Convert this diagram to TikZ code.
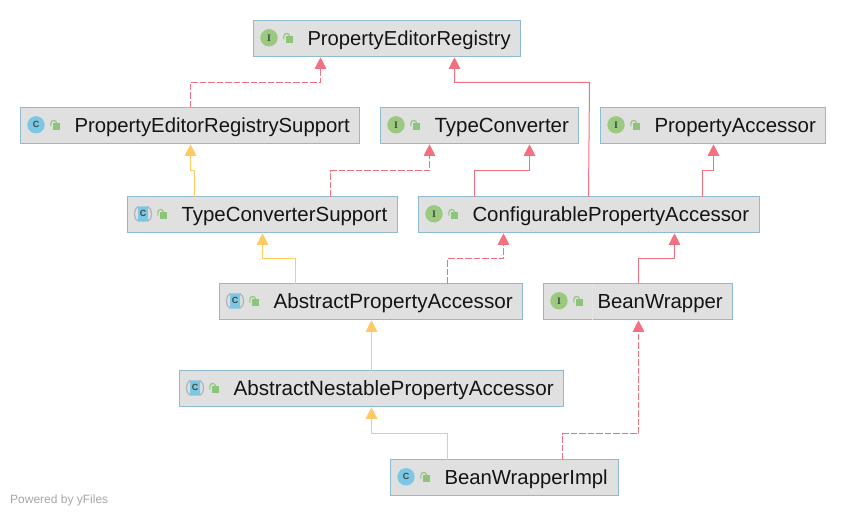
\documentclass[tikz,border=0pt]{standalone}
\usepackage{fontspec}
\setmainfont{Liberation Sans}
\newfontfamily\iconserif{Liberation Serif}
\usetikzlibrary{arrows.meta}
\definecolor{boxfill}{HTML}{E0E0E0}
\definecolor{boxline}{HTML}{8FBBD2}
\definecolor{sepl}{HTML}{E5E5E5}
\definecolor{redl}{HTML}{F2707F}
\definecolor{yell}{HTML}{FFC966}
\definecolor{greenc}{HTML}{9BC97F}
\definecolor{lockc}{HTML}{8CC579}
\definecolor{bluec}{HTML}{7CC7E3}
\definecolor{glyph}{HTML}{3F4A45}
\tikzset{
  boxst/.style={draw=boxline,fill=boxfill,line width=0.9pt,minimum height=36pt,inner sep=0pt,outer sep=0pt,anchor=north west},
  textst/.style={anchor=base west,inner sep=0pt,text=black!92},
  glyphst/.style={inner sep=0pt,text=glyph},
  edge/.style={line width=1pt,shorten >=0.8pt,-{Triangle[length=11.5pt,width=11.5pt]}},
  realiz/.style={edge,color=redl,dash pattern=on 6.5pt off 2pt},
  impl/.style={edge,color=redl},
  ext/.style={edge,color=yell}
}
% name, x1, y1, width, text, font size
\newcommand{\umlbox}[6]{%
  \node[boxst,minimum width=#4pt] (#1) at (#2,#3) {};
  \node[textst,font=\fontsize{#6}{22}\selectfont] (#1-t) at (#2+53.8,#3+25) {#5};
  \begin{scope}[shift={(#2,#3)}]
    \fill[lockc] (32.2,15.5) rectangle (39.5,22.7);
    \draw[lockc,line width=1.1pt] (30.3,19) -- (30.3,16) .. controls (30.3,12) and (36.1,12) .. (36.1,16);
  \end{scope}}
\newcommand{\iconI}[3]{%
  \fill[greenc] (#2+15.5,#3+17.3) circle[radius=8.7pt];
  \node[glyphst,font=\fontsize{10}{10}\selectfont\iconserif\bfseries] (#1-i) at (#2+15.5,#3+17.5) {I};}
\newcommand{\iconC}[3]{%
  \fill[bluec] (#2+15.5,#3+17.3) circle[radius=8.7pt];
  \node[glyphst,font=\fontsize{9}{9}\selectfont\bfseries] (#1-i) at (#2+15.5,#3+17.3) {C};}
\newcommand{\iconA}[3]{%
  \draw[black!30,line width=1.2pt] (#2+11,#3+9.8) .. controls (#2+5.5,#3+12) and (#2+5.5,#3+23) .. (#2+11,#3+25);
  \draw[black!30,line width=1.2pt] (#2+20,#3+9.8) .. controls (#2+25.5,#3+12) and (#2+25.5,#3+23) .. (#2+20,#3+25);
  \fill[bluec,rounded corners=1pt] (#2+10.5,#3+9.8) rectangle (#2+20.5,#3+25);
  \node[glyphst,font=\fontsize{9}{9}\selectfont\bfseries] (#1-i) at (#2+15.5,#3+17.3) {C};}
\begin{document}
\begin{tikzpicture}[x=1pt,y=-1pt]
\useasboundingbox (0,0) rectangle (846,516);
\umlbox{per}{253.5}{20.5}{267}{PropertyEditorRegistry}{20.2}\iconI{per}{253.5}{20.5}
\umlbox{pers}{20.5}{107.5}{339}{PropertyEditorRegistrySupport}{20.3}\iconC{pers}{20.5}{107.5}
\umlbox{tc}{380.5}{107.5}{198}{TypeConverter}{20.5}\iconI{tc}{380.5}{107.5}
\umlbox{pa}{600.5}{107.5}{225}{PropertyAccessor}{20.45}\iconI{pa}{600.5}{107.5}
\umlbox{tcs}{127.5}{196.5}{270}{TypeConverterSupport}{20.45}\iconA{tcs}{127.5}{196.5}
\umlbox{cpa}{418.5}{196.5}{341}{ConfigurablePropertyAccessor}{20.4}\iconI{cpa}{418.5}{196.5}
\umlbox{apa}{219.5}{283.5}{303}{AbstractPropertyAccessor}{20.7}\iconA{apa}{219.5}{283.5}
\umlbox{bw}{543.5}{283.5}{189}{BeanWrapper}{20.35}\iconI{bw}{543.5}{283.5}
\draw[sepl,line width=0.6pt] ([xshift=48.5pt]bw.north west) -- ([xshift=48.5pt]bw.south west);
\umlbox{anpa}{179.5}{370.5}{384}{AbstractNestablePropertyAccessor}{20.65}\iconA{anpa}{179.5}{370.5}
\umlbox{bwi}{390.5}{459.5}{228}{BeanWrapperImpl}{20.3}\iconC{bwi}{390.5}{459.5}
% connectors: shift from each box's west corner
\draw[realiz] ([xshift=170pt]pers.north west) -- ++(0,-25) -| ([xshift=67pt]per.south west);
\draw[ext] ([xshift=67pt]tcs.north west) -- ++(0,-26) -| ([xshift=170pt]pers.south west);
\draw[realiz] ([xshift=203pt]tcs.north west) -- ++(0,-26) -| ([xshift=49pt]tc.south west);
\draw[impl] ([xshift=56pt]cpa.north west) -- ++(0,-26) -| ([xshift=149pt]tc.south west);
\draw[impl] ([xshift=170pt]cpa.north west) -- ++(1,-114) -| ([xshift=201pt]per.south west);
\draw[impl] ([xshift=284pt]cpa.north west) -- ++(0,-26) -| ([xshift=113pt]pa.south west);
\draw[ext] ([xshift=76pt]apa.north west) -- ++(0,-25) -| ([xshift=135pt]tcs.south west);
\draw[realiz] ([xshift=228pt]apa.north west) -- ++(0,-25) -| ([xshift=85pt]cpa.south west);
\draw[impl] ([xshift=95pt]bw.north west) -- ++(0,-25) -| ([xshift=256pt]cpa.south west);
\draw[ext] ([xshift=192pt]anpa.north west) -- ([xshift=152pt]apa.south west);
\draw[ext] ([xshift=57pt]bwi.north west) -- ++(0,-26) -| ([xshift=192pt]anpa.south west);
\draw[realiz] ([xshift=172pt]bwi.north west) -- ++(0,-26) -| ([xshift=95pt]bw.south west);
\node[anchor=base west,inner sep=0pt,text=black!35,font=\fontsize{12}{12}\selectfont] (pow) at (10,503.5) {Powered by yFiles};
\end{tikzpicture}
\end{document}
